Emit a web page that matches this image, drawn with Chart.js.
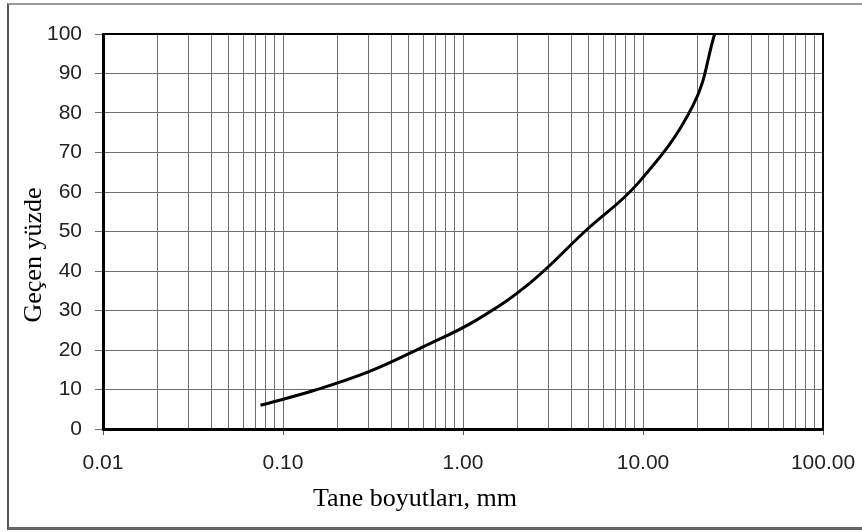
<!DOCTYPE html>
<html>
<head>
<meta charset="utf-8">
<script src="https://cdn.jsdelivr.net/npm/chart.js@4"></script>
<style>
  body { margin: 0; background: #fff; }
  #frame {
    position: absolute; left: 7px; top: 3px; width: 900px; height: 522px;
    border-left: 2px solid #555; border-top: 2px solid #9a9a9a; border-bottom: 3px solid #666;
  }
  #gradChart { position: absolute; left: 0; top: 0; }
</style>
</head>
<body>
<div id="frame"></div>
<canvas id="gradChart" width="862" height="532"></canvas>
<script>
// sieve sizes (mm) and percent passing
const SIEVE_SIZES = [0.075, 0.15, 0.3, 0.6, 1.18, 2.36, 4.75, 9.5, 19, 25];
const PASSING = [6, 9.8, 14.5, 20.8, 27.5, 37, 50, 62.5, 82, 100];

// log grid lines 1..9 per decade
const X_TICKS = [
  0.01, 0.02, 0.03, 0.04, 0.05, 0.06, 0.07, 0.08, 0.09,
  0.1, 0.2, 0.3, 0.4, 0.5, 0.6, 0.7, 0.8, 0.9,
  1, 2, 3, 4, 5, 6, 7, 8, 9,
  10, 20, 30, 40, 50, 60, 70, 80, 90,
  100,
];
const X_DECADES = [0.01, 0.1, 1, 10, 100];
const X_TITLE = "Tane boyutları, mm";
const Y_TITLE = "Geçen yüzde";

const isDecade = (v) => X_DECADES.some((d) => Math.abs(d - v) < 1e-9);

const GRID = "#6e6e6e";
const TICK_FONT = { family: "'Liberation Sans', Arial", size: 21 };

const framePlugin = {
  id: "frame",
  beforeDatasetsDraw(chart) {
    const a = chart.chartArea;
    const c = chart.ctx;
    c.save();
    c.strokeStyle = "#000";
    c.lineWidth = 2;
    c.strokeRect(a.left, a.top, a.right - a.left, a.bottom - a.top);
    c.restore();
  },
  afterDraw(chart) {
    const c = chart.ctx;
    c.save();
    c.fillStyle = "#000";
    c.font = "26px 'Liberation Serif', 'Times New Roman'";
    c.textAlign = "center";
    c.textBaseline = "middle";
    c.fillText(X_TITLE, 415, 499);
    c.translate(34, 255);
    c.rotate(-Math.PI / 2);
    c.fillText(Y_TITLE, 0, 0);
    c.restore();
  },
};

const ctx = document.getElementById("gradChart").getContext("2d");

const gradChart = new Chart(ctx, {
  type: "line",
  data: {
    datasets: [
      {
        data: SIEVE_SIZES.map((s, i) => ({ x: s, y: PASSING[i] })),
        borderColor: "#000",
        borderWidth: 3,
        pointRadius: 0,
        tension: 0.4,
        fill: false,
      },
    ],
  },
  options: {
    responsive: false,
    animation: false,
    devicePixelRatio: 1,
    layout: { padding: { top: 34, right: 39, left: 0, bottom: 0 } },
    plugins: {
      legend: { display: false },
      tooltip: { enabled: false },
    },
    scales: {
      x: {
        type: "logarithmic",
        min: 0.01,
        max: 100,
        afterBuildTicks: (scale) => {
          scale.ticks = X_TICKS.map((v) => ({ value: v, major: isDecade(v) }));
        },
        afterFit: (scale) => {
          scale.height = 103;
          scale.paddingLeft = 0;
          scale.paddingRight = 0;
        },
        ticks: {
          autoSkip: false,
          maxRotation: 0,
          padding: 16,
          color: "#222",
          font: TICK_FONT,
          callback: (v) => (isDecade(v) ? Number(v).toFixed(2) : ""),
        },
        grid: {
          color: GRID,
          lineWidth: 1,
          tickLength: 6,
          tickColor: (c) => (c.tick && isDecade(c.tick.value) ? "#555" : "rgba(0,0,0,0)"),
        },
        border: { color: "#000", width: 3 },
      },
      y: {
        min: 0,
        max: 100,
        afterFit: (scale) => {
          scale.width = 103;
        },
        ticks: {
          stepSize: 10,
          padding: 13,
          color: "#222",
          font: TICK_FONT,
        },
        grid: {
          color: GRID,
          lineWidth: 1,
          tickLength: 8,
        },
        border: { color: "#000", width: 3 },
      },
    },
  },
  plugins: [framePlugin],
});
</script>
</body>
</html>
